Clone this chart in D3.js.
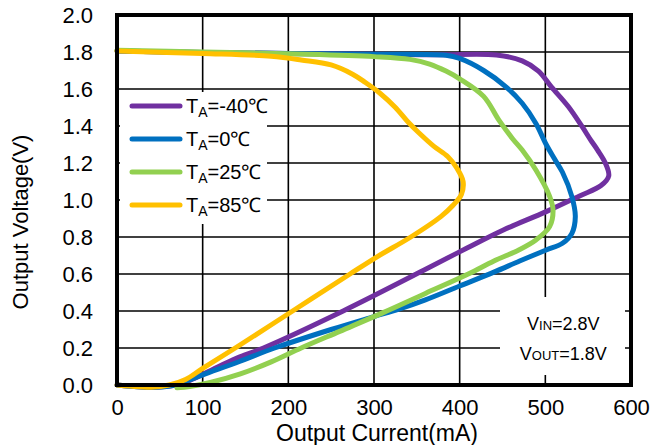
<!DOCTYPE html>
<html>
<head>
<meta charset="utf-8">
<script src="https://cdn.jsdelivr.net/npm/d3@7"></script>
<style>
  body { margin: 0; background: #fff; }
  text { font-family: "Liberation Sans", Arial, sans-serif; fill: #000; }
</style>
</head>
<body>
<div id="visualization"></div>
<script>
// tick values
const currentTicks = [0, 100, 200, 300, 400, 500, 600];
const voltageTicks = [0, 0.2, 0.4, 0.6, 0.8, 1.0, 1.2, 1.4, 1.6, 1.8, 2.0];

// [output current mA, output voltage V]
const tempM40 = [[0,1.805],[100,1.797],[200,1.792],[300,1.788],[374,1.785],[443,1.784],[473,1.752],[492,1.697],[507,1.612],[527,1.504],[543,1.396],[553,1.324],[561,1.27],[570,1.2],[574,1.13],[565,1.078],[540,1.022],[501,0.937],[451,0.838],[408,0.739],[358,0.62],[264,0.4],[171,0.2],[140,0.145],[110,0.08],[85,0.025],[68,0],[40,-0.012],[15,-0.006],[0,0]];
const temp0 = [[0,1.805],[100,1.797],[200,1.792],[300,1.788],[384,1.782],[400,1.765],[428,1.70],[454,1.612],[473,1.523],[489,1.414],[501,1.30],[511,1.22],[520,1.15],[531,1.018],[535,0.91],[531,0.82],[520,0.766],[501,0.73],[470,0.67],[440,0.61],[400,0.535],[360,0.46],[329,0.41],[300,0.37],[250,0.3],[184,0.2],[143,0.127],[100,0.055],[80,0.02],[68,0],[45,-0.012],[20,-0.008],[0,0]];
const temp25 = [[0,1.81],[100,1.8],[211,1.789],[300,1.775],[342,1.76],[365,1.735],[384,1.697],[400,1.655],[428,1.56],[446,1.43],[462,1.33],[473,1.27],[489,1.162],[505,1.02],[509,0.946],[505,0.856],[489,0.784],[469,0.73],[440,0.67],[410,0.6],[360,0.495],[310,0.39],[260,0.29],[215,0.2],[180,0.125],[144,0.06],[110,0.015],[85,-0.008],[70,-0.015]];
const temp85 = [[0,1.805],[100,1.792],[180,1.777],[215,1.757],[250,1.73],[275,1.68],[290,1.635],[307,1.577],[325,1.5],[340,1.42],[352,1.365],[370,1.29],[386,1.235],[397,1.17],[404,1.1],[402,1.03],[392,0.97],[378,0.91],[343,0.80],[304,0.694],[272,0.6],[205,0.4],[138,0.2],[100,0.09],[80,0.03],[61,0],[40,-0.012],[15,-0.006],[0,0]];

const seriesNames = ["-40℃", "0℃", "25℃", "85℃"];
const seriesColors = ["#7030A0", "#0070C0", "#92D050", "#FFC000"];
const seriesData = [tempM40, temp0, temp25, temp85];

const margin = { top: 15, right: 39, bottom: 60, left: 117 },
  width = 670 - margin.left - margin.right,
  height = 445 - margin.top - margin.bottom;

const svg = d3
  .select("#visualization")
  .append("svg")
  .attr("width", 670)
  .attr("height", 445)
  .append("g")
  .attr("transform", `translate(${margin.left}, ${margin.top})`);

const x = d3.scaleLinear().domain([0, 600]).range([0, width]);
const y = d3.scaleLinear().domain([0, 2]).range([height, 0]);

// grid
svg
  .append("g")
  .selectAll("line")
  .data(currentTicks.slice(1, -1))
  .join("line")
  .attr("x1", (d) => x(d))
  .attr("x2", (d) => x(d))
  .attr("y1", 0)
  .attr("y2", height)
  .attr("stroke", "#000")
  .attr("stroke-width", 1.6);

svg
  .append("g")
  .selectAll("line")
  .data(voltageTicks.slice(1, -1))
  .join("line")
  .attr("x1", 0)
  .attr("x2", width)
  .attr("y1", (d) => y(d))
  .attr("y2", (d) => y(d))
  .attr("stroke", "#000")
  .attr("stroke-width", 1.6);

// white boxes behind legend and note
svg.append("rect").attr("x", 3).attr("y", 77).attr("width", 147).attr("height", 132).attr("fill", "#fff");
svg.append("rect").attr("x", 383).attr("y", 282).attr("width", 125).attr("height", 78).attr("fill", "#fff");

// axes (labels only)
const xAxis = svg
  .append("g")
  .attr("transform", `translate(0, ${height})`)
  .call(d3.axisBottom(x).tickValues(currentTicks).tickSize(0).tickPadding(14));
const yAxis = svg
  .append("g")
  .call(d3.axisLeft(y).tickValues(voltageTicks).tickFormat(d3.format(".1f")).tickSize(0).tickPadding(24));
[xAxis, yAxis].forEach((a) => {
  a.select(".domain").remove();
  a.selectAll("text").style("font-size", "22px").attr("font-family", null);
});
yAxis.selectAll("text").attr("dy", "0.36em");

// curves
const line = d3
  .line()
  .x((d) => x(d[0]))
  .y((d) => y(d[1]))
  .curve(d3.curveCatmullRom.alpha(0.5));

svg
  .append("g")
  .selectAll("path")
  .data(seriesData)
  .join("path")
  .attr("d", line)
  .attr("fill", "none")
  .attr("stroke", (d, i) => seriesColors[i])
  .attr("stroke-width", 5)
  .attr("stroke-linejoin", "round")
  .attr("stroke-linecap", "round");

// frame
svg
  .append("rect")
  .attr("width", width)
  .attr("height", height)
  .attr("fill", "none")
  .attr("stroke", "#000")
  .attr("stroke-width", 4);

// legend
const legend = svg
  .append("g")
  .selectAll("g")
  .data(seriesNames)
  .join("g")
  .attr("transform", (d, i) => `translate(0, ${91 + i * 33})`);
legend
  .append("line")
  .attr("x1", 15)
  .attr("x2", 63)
  .attr("stroke", (d, i) => seriesColors[i])
  .attr("stroke-width", 5)
  .attr("stroke-linecap", "round");
const lt = legend.append("text").attr("x", 69).attr("y", 7).style("font-size", "20px");
lt.append("tspan").text("T");
lt.append("tspan").attr("dy", 4).style("font-size", "14px").text("A");
lt.append("tspan").attr("dy", -4).text((d) => "=" + d);

// note
const note = svg.append("g").attr("transform", `translate(${x(521)}, 0)`);
const n1 = note.append("text").attr("y", 315).attr("text-anchor", "middle").style("font-size", "18px");
n1.append("tspan").text("V");
n1.append("tspan").style("font-size", "13px").text("IN");
n1.append("tspan").text("=2.8V");
const n2 = note.append("text").attr("y", 345).attr("text-anchor", "middle").style("font-size", "18px");
n2.append("tspan").text("V");
n2.append("tspan").style("font-size", "13px").text("OUT");
n2.append("tspan").text("=1.8V");

// axis titles
svg
  .append("text")
  .attr("x", width / 2 + 3)
  .attr("y", height + 56)
  .attr("text-anchor", "middle")
  .style("font-size", "23px")
  .text("Output Current(mA)");
svg
  .append("text")
  .attr("transform", `translate(${-89}, ${height / 2 + 22}) rotate(-90)`)
  .attr("text-anchor", "middle")
  .style("font-size", "22px")
  .text("Output Voltage(V)");
</script>
</body>
</html>
